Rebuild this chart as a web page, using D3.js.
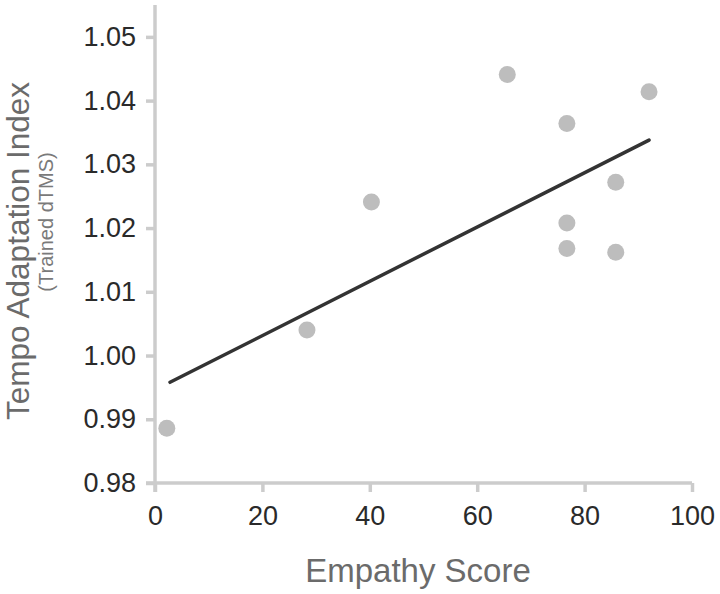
<!DOCTYPE html>
<html>
<head>
<meta charset="utf-8">
<script src="https://cdn.jsdelivr.net/npm/d3@7.9.0/dist/d3.min.js"></script>
<style>
  html, body { margin: 0; padding: 0; background: #fff; }
  svg { display: block; font-family: 'Liberation Sans', Arial, sans-serif; }
</style>
</head>
<body>
<svg id="chart" width="720" height="594"></svg>
<script>
// empathy score vs tempo adaptation index
const empathy = [2.2, 28.3, 40.3, 65.6, 92.0, 76.7, 85.8, 76.7, 76.7, 85.8];
const tempoIndex = [0.9886, 1.0040, 1.0241, 1.0441, 1.0414, 1.0364, 1.0272, 1.0208, 1.0168, 1.0162];

// fitted line end points
const fitX = [2.8, 92.0];
const fitY = [0.9958, 1.0338];

const xTicks = [0, 20, 40, 60, 80, 100];
const yTicks = [0.98, 0.99, 1.00, 1.01, 1.02, 1.03, 1.04, 1.05];

const svg = d3.select('#chart');

const x = d3.scaleLinear().domain([0, 100]).range([155, 692]);
const y = d3.scaleLinear().domain([0.98, 1.055]).range([483, 5]);

const axisColor = '#cccccc';

// y axis
const yAxis = svg.append('g')
  .attr('transform', `translate(${x(0)},0)`)
  .call(d3.axisLeft(y).tickValues(yTicks).tickSize(9).tickPadding(10)
    .tickFormat(d3.format('.2f')));
yAxis.select('.domain').attr('d', `M0,${y(1.055)}V${y(0.98) + 9}`);

// x axis
const xAxis = svg.append('g')
  .attr('transform', `translate(0,${y(0.98)})`)
  .call(d3.axisBottom(x).tickValues(xTicks).tickSize(9).tickPadding(14)
    .tickFormat(d3.format('d')));
xAxis.select('.domain').attr('d', `M${x(0) - 9},0H${x(100)}`);

svg.selectAll('.domain, .tick line')
  .attr('stroke', axisColor)
  .attr('stroke-width', 3.5);

svg.selectAll('.tick text')
  .attr('fill', '#2a2a2a')
  .attr('font-size', 27)
  .attr('font-family', "'Liberation Sans', Arial, sans-serif");

// points
svg.append('g')
  .selectAll('circle')
  .data(empathy.map((e, i) => ({ e, t: tempoIndex[i] })))
  .join('circle')
  .attr('cx', (d) => x(d.e))
  .attr('cy', (d) => y(d.t))
  .attr('r', 8.5)
  .attr('fill', '#bdbdbd');

// trend line
svg.append('path')
  .datum(fitX.map((v, i) => [v, fitY[i]]))
  .attr('d', d3.line().x((d) => x(d[0])).y((d) => y(d[1])))
  .attr('stroke', '#333')
  .attr('stroke-width', 3.5)
  .attr('stroke-linecap', 'round')
  .attr('fill', 'none');

// axis titles
svg.append('text')
  .attr('x', 418)
  .attr('y', 582)
  .attr('text-anchor', 'middle')
  .attr('font-size', 33)
  .attr('fill', '#6b6b6b')
  .text('Empathy Score');

svg.append('text')
  .attr('transform', 'translate(29,251) rotate(-90)')
  .attr('text-anchor', 'middle')
  .attr('font-size', 31.5)
  .attr('fill', '#6b6b6b')
  .text('Tempo Adaptation Index');

svg.append('text')
  .attr('transform', 'translate(53,222) rotate(-90)')
  .attr('text-anchor', 'middle')
  .attr('font-size', 20)
  .attr('fill', '#7a7a7a')
  .text('(Trained dTMS)');
</script>
</body>
</html>
